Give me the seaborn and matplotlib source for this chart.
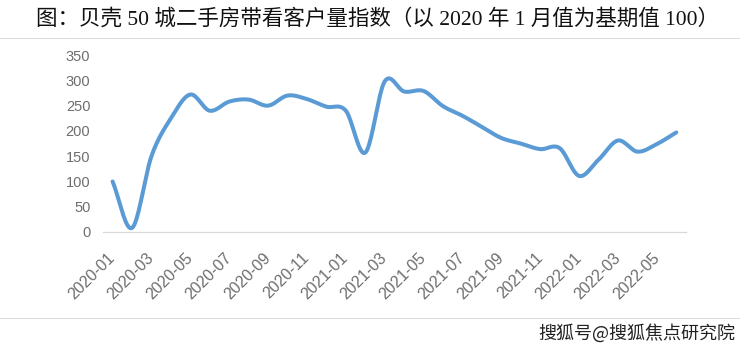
import numpy as np
import pandas as pd
import seaborn as sns
import matplotlib.pyplot as plt
from matplotlib.lines import Line2D

# Monthly index values, 2020-01 .. 2022-06 (2020-01 = 100)
months = pd.period_range('2020-01', '2022-06', freq='M').strftime('%Y-%m').tolist()
values = [100, 8, 150, 225, 272, 240, 258, 262, 250, 270,
          263, 248, 240, 157, 298, 278, 279, 249, 230, 208,
          186, 175, 164, 166, 111, 143, 181, 159, 174, 197]
tick_labels = months[::2]
title = '图：贝壳 50 城二手房带看客户量指数（以 2020 年 1 月值为基期值 100）'
watermark = '搜狐号@搜狐焦点研究院'


def smooth(x, y, n=20):
    # Catmull-Rom curve through the points, like Excel's "smoothed line"
    x = np.asarray(x, float)
    y = np.asarray(y, float)
    px = np.concatenate([[2 * x[0] - x[1]], x, [2 * x[-1] - x[-2]]])
    py = np.concatenate([[2 * y[0] - y[1]], y, [2 * y[-1] - y[-2]]])
    t = np.linspace(0, 1, n, endpoint=False)
    xs, ys = [], []
    for i in range(1, len(px) - 2):
        for p, out in ((px, xs), (py, ys)):
            p0, p1, p2, p3 = p[i - 1], p[i], p[i + 1], p[i + 2]
            out.append(0.5 * (2 * p1 + (-p0 + p2) * t
                              + (2 * p0 - 5 * p1 + 4 * p2 - p3) * t ** 2
                              + (-p0 + 3 * p1 - 3 * p2 + p3) * t ** 3))
    xs.append([x[-1]])
    ys.append([y[-1]])
    return np.concatenate(xs), np.concatenate(ys)


sns.set_theme(style='white')
plt.rcParams['font.family'] = ['Liberation Sans', 'Noto Sans CJK SC', 'DejaVu Sans']

pos = np.arange(len(values))
sx, sy = smooth(pos, values)
df = pd.DataFrame({'x': sx, 'y': sy})

fig = plt.figure(figsize=(7.4, 3.58), dpi=100)
ax = fig.add_axes([0.139, 0.352, 0.788, 0.494])
sns.lineplot(data=df, x='x', y='y', ax=ax, color='#5b9bd5', linewidth=2.9,
             sort=False, solid_capstyle='round')

ax.set_xlim(-0.5, len(values) - 0.5)
ax.set_ylim(0, 350)
ax.set_yticks(range(0, 351, 50))
ax.set_xticks(pos[::2])
ax.set_xticklabels(tick_labels, rotation=45, ha='right', va='center',
                   rotation_mode='anchor')
ax.set_xticks(np.arange(-0.5, len(values), 2), minor=True)
ax.tick_params(axis='x', which='major', length=0, pad=17, labelsize=11.5, labelcolor='#6e6e6e')
ax.tick_params(axis='x', which='minor', length=4, width=0.8, color='#d9d9d9', direction='out')
ax.tick_params(axis='y', length=0, pad=9, labelsize=10.5, labelcolor='#6e6e6e')
ax.set_xlabel('')
ax.set_ylabel('')
for s in ['top', 'right', 'left']:
    ax.spines[s].set_visible(False)
ax.spines['bottom'].set_color('#d9d9d9')
ax.spines['bottom'].set_linewidth(0.9)

fig.text(0.51, 0.945, title, ha='center', va='center', fontsize=15.5, color='#111111',
         family=['Liberation Serif', 'Noto Sans CJK SC'])
fig.add_artist(Line2D([0, 1], [0.893, 0.893], color='#dddddd', lw=0.8))
fig.add_artist(Line2D([0, 1], [0.112, 0.112], color='#dddddd', lw=0.8))
fig.text(0.993, 0.07, watermark, ha='right', va='center', fontsize=13,
         color='#222222', family=['Noto Sans CJK SC', 'DejaVu Sans'])

fig.savefig('out.png', dpi=100)
